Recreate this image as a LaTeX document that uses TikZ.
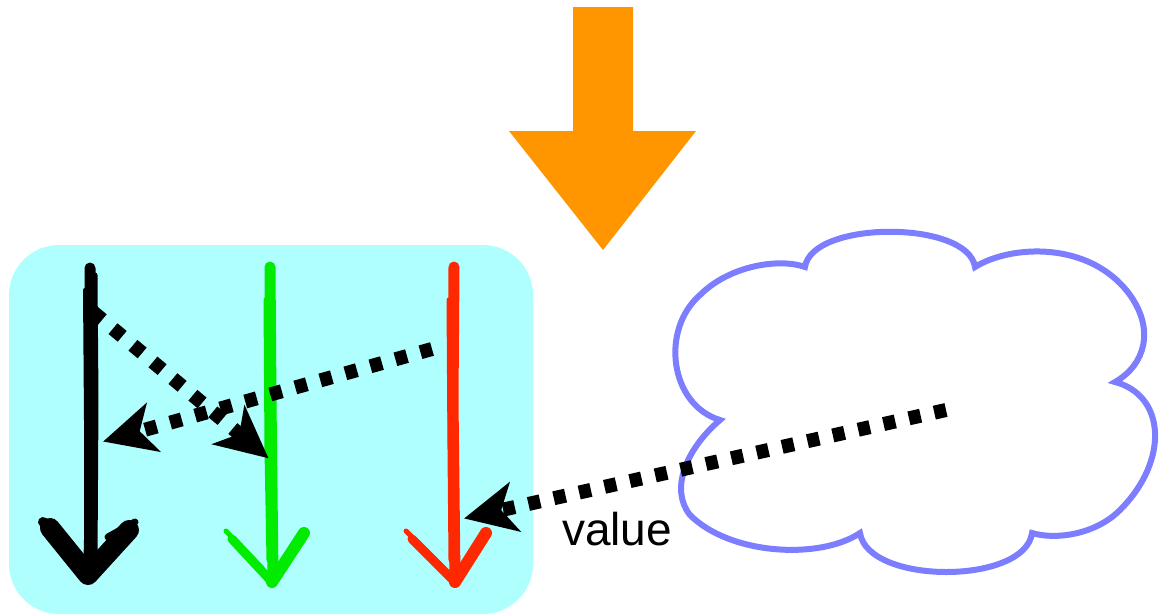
\documentclass[tikz,border=0pt]{standalone}
\usepackage{fontspec}
\setmainfont{Liberation Sans}
\usetikzlibrary{arrows.meta}
\definecolor{bigorange}{RGB}{255,150,0}
\definecolor{boxcyan}{RGB}{176,255,255}
\definecolor{cloudblue}{RGB}{125,125,255}
\definecolor{sketchgreen}{RGB}{0,235,0}
\definecolor{sketchred}{RGB}{255,40,0}
\tikzset{
  flowarrow/.style={draw=black, line width=14pt, dash pattern=on 12pt off 14pt,
    -{Stealth[length=52pt,width=50pt,inset=14pt]}, shorten >=-2pt},
  sketch/.style={line cap=round, line join=round},
  cloudline/.style={draw=cloudblue, line width=6pt, fill=white},
}
\begin{document}
\begin{tikzpicture}[x=1pt,y=-1pt]
\useasboundingbox (0,0) rectangle (1162,614);
% orange arrow
\fill[bigorange] (573,7) -- (633,7) -- (633,131) -- (696,131) -- (603,250)
  -- (509,131) -- (573,131) -- cycle;
% cyan box
\fill[boxcyan, rounded corners=50pt] (9,245) rectangle (533,614);
% black sketchy arrow
\draw[sketch, black, line width=11pt] (90,268) -- (90,350) -- (91,430) -- (90,520) -- (89,560);
\draw[sketch, black, line width=5pt] (95,275) -- (96,400) -- (95,560);
\draw[sketch, black, line width=4pt] (85,290) -- (86,420) -- (86,555);
\draw[sketch, black, line width=20pt] (50,528) -- (88,575) -- (129,530);
\draw[sketch, black, line width=10pt] (43,522) -- (62,536);
\draw[sketch, black, line width=7pt] (108,537) -- (135,522);
% green sketchy arrow
\draw[sketch, sketchgreen, line width=11pt] (270,267) -- (271,400) -- (273,578);
\draw[sketch, sketchgreen, line width=5pt] (266,300) -- (267,450) -- (269,560);
\draw[sketch, sketchgreen, line width=9pt] (232,539) -- (272,582);
\draw[sketch, sketchgreen, line width=5pt] (226,531) -- (262,568);
\draw[sketch, sketchgreen, line width=12pt] (272,582) -- (304,533);
% red sketchy arrow
\draw[sketch, sketchred, line width=11pt] (454,267) -- (453,400) -- (455,578);
\draw[sketch, sketchred, line width=5pt] (449,300) -- (450,450) -- (451,560);
\draw[sketch, sketchred, line width=9pt] (412,539) -- (455,582);
\draw[sketch, sketchred, line width=5pt] (406,531) -- (440,565);
\draw[sketch, sketchred, line width=12pt] (455,582) -- (486,533);
% cloud
\draw[cloudline] (805,267) .. controls (812,220) and (968,220) .. (975,267)
  .. controls (1010,245) and (1090,240) .. (1130,295)
  .. controls (1155,330) and (1145,365) .. (1115,382)
  .. controls (1165,395) and (1170,460) .. (1120,510)
  .. controls (1095,535) and (1055,540) .. (1032,533)
  .. controls (1025,585) and (868,585) .. (860,533)
  .. controls (820,560) and (730,555) .. (690,515)
  .. controls (670,490) and (685,450) .. (720,420)
  .. controls (670,405) and (660,330) .. (700,295)
  .. controls (730,265) and (780,258) .. (805,267) -- cycle;
% connector end points
\coordinate (b1) at (93,312);
\coordinate (g1) at (267,457);
\coordinate (r1) at (432,349);
\coordinate (b2) at (105,441);
\coordinate (c) at (946,410);
\coordinate (r2) at (466,518);
% dotted arrows
\draw[flowarrow] (b1) -- (g1);
\draw[flowarrow] (r1) -- (b2);
\draw[flowarrow] (c) -- (r2);
\node[anchor=base west, inner sep=0pt, font=\fontsize{46}{50}\selectfont] (val) at (562,545) {value};
\end{tikzpicture}
\end{document}
